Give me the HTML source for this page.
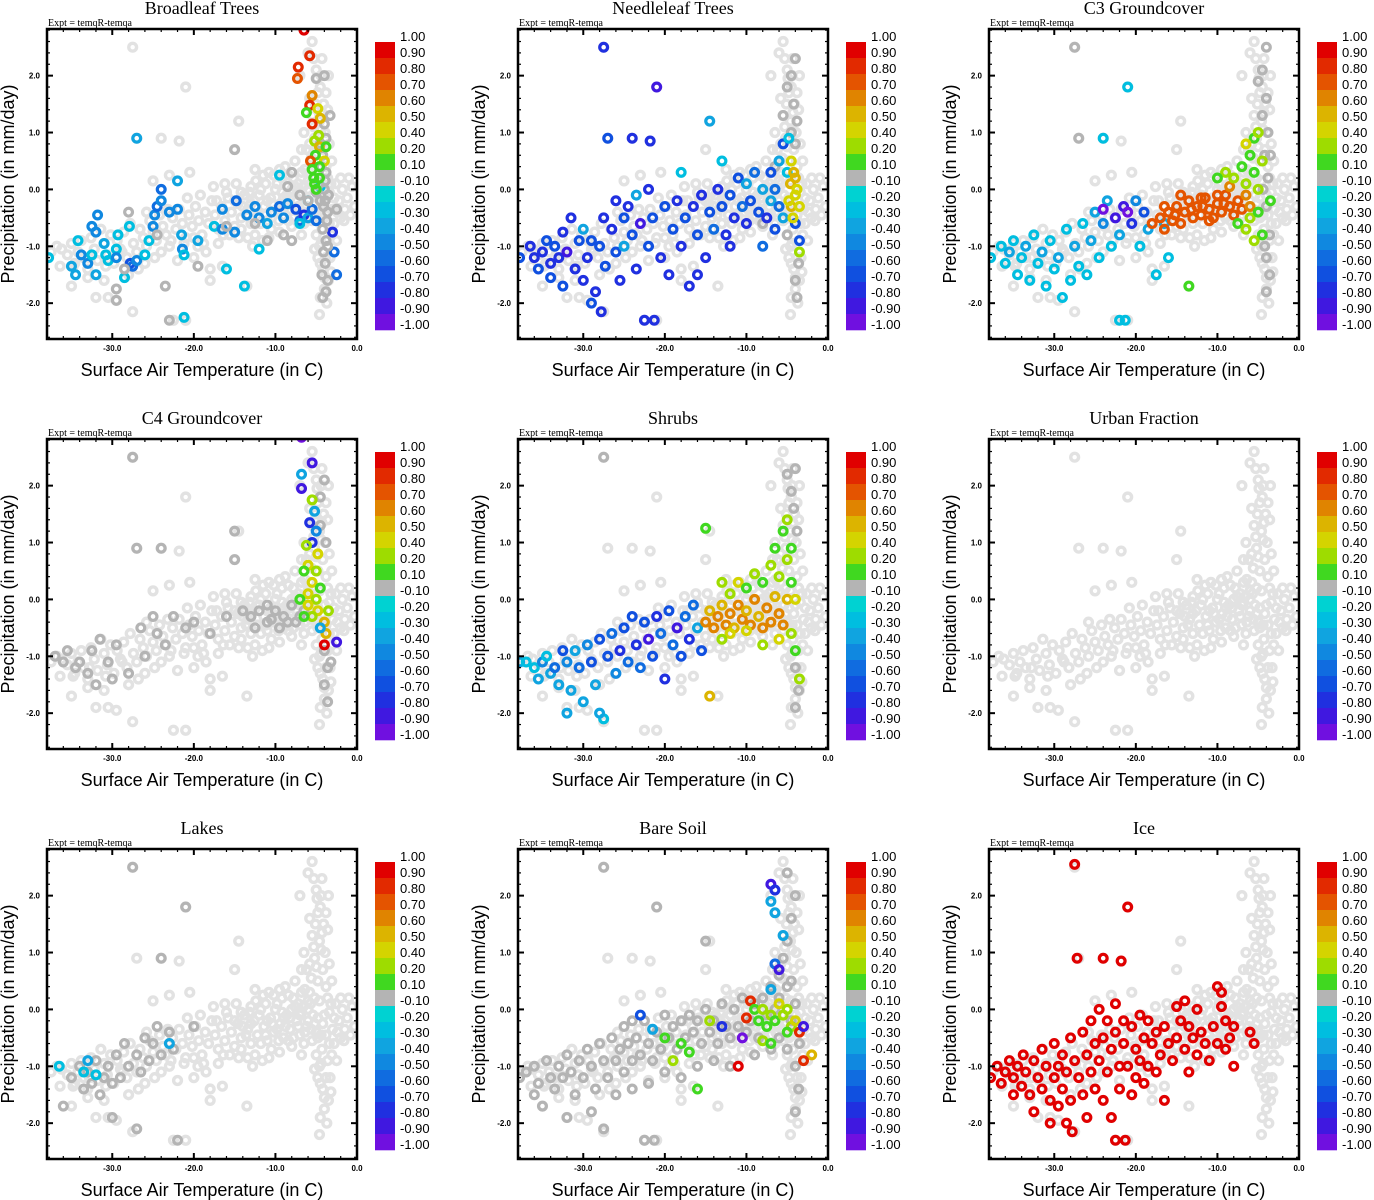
<!DOCTYPE html>
<html><head><meta charset="utf-8">
<style>
html,body{margin:0;padding:0;background:#fff;}
svg{display:block;}
.ttl{font-family:"Liberation Serif",serif;font-size:18px;}
.expt{font-family:"Liberation Serif",serif;font-size:10px;}
.axl{font-family:"Liberation Sans",sans-serif;font-size:18px;}
.tk{font-family:"Liberation Sans",sans-serif;font-size:8px;font-weight:bold;}
.cb{font-family:"Liberation Sans",sans-serif;font-size:13px;}
</style></head>
<body>
<svg id="fig" width="1374" height="1200" viewBox="0 0 1374 1200" xmlns="http://www.w3.org/2000/svg"></svg>
<script>
// ---- chart data ----
const panelTitles = ["Broadleaf Trees","Needleleaf Trees","C3 Groundcover","C4 Groundcover","Shrubs","Urban Fraction","Lakes","Bare Soil","Ice"];
const xTicks = [-30,-20,-10,0];
const xTickLabels = ["-30.0","-20.0","-10.0","0.0"];
const yTicks = [2,1,0,-1,-2];
const yTickLabels = ["2.0","1.0","0.0","-1.0","-2.0"];
const cbEdges = [1,0.9,0.8,0.7,0.6,0.5,0.4,0.2,0.1,-0.1,-0.2,-0.3,-0.4,-0.5,-0.6,-0.7,-0.8,-0.9,-1];
const cbLabels = ["1.00","0.90","0.80","0.70","0.60","0.50","0.40","0.20","0.10","-0.10","-0.20","-0.30","-0.40","-0.50","-0.60","-0.70","-0.80","-0.90","-1.00"];
const cbColors = ['#e00000','#e22a00','#e45400','#e08400','#dcb400','#d4d400','#9edc00','#40d820','#b4b4b4','#00d2d2','#00bee0','#10a4e0','#1088e0','#106ce0','#1050e0','#2030e0','#4018e0','#7010e0'];
// background cloud [temperature, precipitation]
const basePoints = [[-37.5,-1.1],[-36.8,-1.0],[-36.2,-1.05],[-35.5,-1.15],[-35.0,-0.95],[-34.6,-1.3],[-34.2,-1.1],[-33.8,-0.9],[-33.5,-1.2],[-33.0,-1.4],[-32.6,-0.85],[-32.2,-1.05],[-31.8,-1.25],[-31.4,-0.7],[-31.0,-0.95],[-30.6,-1.15],[-30.2,-0.8],[-29.8,-1.3],[-29.4,-0.9],[-29.0,-1.05],[-28.6,-0.75],[-28.2,-1.2],[-27.8,-0.6],[-27.4,-0.95],[-27.0,-1.1],[-26.6,-0.7],[-26.2,-0.85],[-25.8,-1.0],[-25.4,-0.55],[-25.0,-0.75],[-24.6,-0.9],[-24.2,-0.45],[-23.8,-0.65],[-23.4,-0.8],[-23.0,-1.0],[-22.6,-0.5],[-22.2,-0.7],[-21.8,-0.35],[-21.4,-0.6],[-21.0,-0.85],[-20.6,-0.45],[-20.2,-0.65],[-19.8,-0.3],[-19.4,-0.55],[-19.0,-0.8],[-18.6,-0.4],[-18.2,-0.6],[-17.8,-0.2],[-17.4,-0.45],[-17.0,-0.7],[-16.6,-0.3],[-16.2,-0.55],[-15.8,-0.15],[-15.4,-0.4],[-15.0,-0.65],[-14.6,-0.25],[-14.2,-0.5],[-13.8,-0.1],[-13.4,-0.35],[-13.0,-0.6],[-12.6,-0.2],[-12.2,-0.45],[-11.8,0.0],[-11.4,-0.3],[-11.0,-0.55],[-10.6,-0.15],[-10.2,-0.4],[-9.8,0.1],[-9.4,-0.25],[-9.0,-0.5],[-8.6,-0.1],[-8.2,-0.35],[-7.8,0.2],[-7.4,-0.2],[-7.0,-0.45],[-6.6,0.05],[-6.2,-0.3],[-5.8,0.3],[-5.4,-0.1],[-5.0,-0.4],[-4.6,0.15],[-4.2,-0.25],[-3.8,0.4],[-3.4,-0.05],[-3.0,-0.35],[-2.6,0.1],[-2.2,-0.2],[-1.8,0.0],[-1.2,-0.15],[-0.6,0.05],[-0.3,-0.3],
[-16,-0.05],[-15,-0.2],[-14,-0.3],[-13,0.05],[-12,-0.1],[-11,-0.2],[-10,0.0],[-9,-0.15],[-8,0.0],[-7,-0.1],[-6,-0.2],[-10.5,-0.7],[-12.5,-0.8],[-9.5,-0.75],[-8,-0.65],[-6.5,-0.6],[-14.5,-0.85],[-17,-0.95],[-18.5,-1.1],[-19.5,-1.0],[-16.5,-1.35],[-18,-1.4],[-20,-1.2],[-22,-1.25],[-24,-1.1],[-26,-1.3],[-28,-1.5],[-31,-1.6],[-33,-1.55],[-35,-1.7],[-27.5,-2.15],[-29.5,-1.95],[-30.5,-1.9],[-32,-1.9],[-22.5,-2.3],[-21,-2.3],[-13.5,-1.7],[-18,-1.6],
[-4.5,-1.9],[-4,-1.75],[-3.5,-1.6],[-4.2,-1.4],[-3.8,-1.2],[-4.6,-1.0],[-3.6,-0.9],[-5,-0.8],[-4.3,-0.7],[-3.4,-0.6],[-5.5,-0.55],[-4.8,0.5],[-4.2,0.7],[-5.2,0.9],[-3.9,1.0],[-4.6,1.2],[-5.5,1.3],[-4.1,1.5],[-4.8,1.7],[-3.6,1.4],[-5.8,1.6],[-4.4,2.0],[-5.0,2.1],[-6.0,2.4],[-7,2.0],[-6.5,1.0],[-6.2,0.7],[-5.7,0.1],[-3.1,0.5],[-2.8,-0.6],[-2.5,-0.9],[-3.2,-1.45],[-4.9,1.95],[-5.5,2.6],
[-27.5,2.5],[-21,1.8],[-27,0.9],[-24,0.9],[-21.8,0.85],[-14.5,1.2],[-15,0.7],[-25,0.15],[-23,0.25],[-20.5,0.3],[-12.5,0.35],[-11.5,0.25],[-9.5,0.35],
[-8.8,0.4],[-7.6,0.5],[-6.8,0.3],[-9.2,-0.05],[-7.2,0.1],[-6,0.0],[-5.2,-0.25],[-4.8,-0.15],[-3.8,-0.45],[-2,-0.5],[-1.5,-0.35],[-13.2,-0.05],[-11.2,0.1],[-10.2,0.25],[-8.4,-0.55],[-6.8,-0.8],[-4.5,-1.3],
[-14.8,0.1],[-14.2,-0.05],[-13.6,-0.45],[-13,-0.25],[-12.4,0.15],[-11.8,-0.6],[-11.2,-0.45],[-10.8,0.3],[-10.4,-0.25],[-9.8,-0.35],[-9.6,-0.55],[-9.2,0.2],[-8.8,-0.3],[-8.4,0.25],[-8.2,-0.15],[-7.8,-0.5],[-7.6,0.05],[-7.2,-0.3],[-6.8,-0.05],[-6.4,0.35],[-6.4,-0.4],[-6,0.15],[-5.6,-0.35],[-5.6,0.55],[-5.2,0.2],[-4.8,-0.5],[-4.4,-0.45],[-4,-0.1],[-3.6,0.2],[-3.2,0.1],[-2.8,-0.15],[-2.4,-0.4],[-2,0.2],[-1.6,-0.55],[-1,0.2],[-0.8,-0.45],[-5.8,0.8],[-6.8,0.7],[-5,0.75],[-4.4,1.05],[-3.4,0.8],[-5.3,1.1],[-4.3,1.35],[-5.1,1.5],[-4.5,1.8],[-3.8,1.7],[-5.3,2.3],[-4.3,2.3],[-3.5,2.0],[-4,-1.55],[-4.8,-1.2],[-3.3,-1.2],[-4.4,-0.95],[-5.2,-1.05],[-3.1,-0.8],[-4.6,-2.2],[-3.7,-2.0],
[-20,-0.85],[-18.8,-0.95],[-17.2,-0.2],[-16.4,-0.8],[-15.6,-0.8],[-14.2,-0.7],[-13.4,-0.85],[-12.8,-1.0],[-11.6,-0.9],[-10.8,-0.85],[-22.8,-0.9],[-21.2,-0.95],[-24.8,-1.2],[-26.8,-1.4],[-28.8,-1.1],[-30.8,-1.35],[-32.8,-1.2],[-34.8,-1.35],[-36.4,-1.35],[-25.8,-0.4],[-23.2,-0.35],[-20.8,-0.15],[-19.2,-0.1],[-17.6,0.05],[-16.2,0.1]];
// highlighted points per panel [temperature, precipitation, correlation]
const p1Points = [[-37.8,-1.2,-0.25],[-35,-1.35,-0.35],[-34.5,-1.5,-0.35],[-34.2,-0.9,-0.25],[-33.8,-1.15,-0.45],[-33,-1.3,-0.45],[-32.5,-0.65,-0.45],[-32,-0.75,-0.45],[-31.8,-0.45,-0.45],[-32.5,-1.15,-0.25],[-32,-1.5,-0.35],[-31,-0.95,-0.35],[-30.5,-1.25,-0.25],[-30.8,-1.15,-0.25],[-29.5,-1.05,-0.25],[-29.5,-1.2,-0.45],[-29.3,-0.8,-0.25],[-28.5,-1.55,-0.25],[-27.8,-1.3,-0.6],[-27.5,-1.35,-0.5],[-27,-1.25,-0.45],[-27,0.9,-0.3],[-27.9,-0.65,-0.25],[-26,-1.15,-0.25],[-25.5,-0.9,-0.25],[-25,-0.65,-0.4],[-24.8,-0.45,-0.45],[-24.5,-0.3,-0.5],[-24,-0.2,-0.45],[-24,0.0,-0.5],[-23,-0.4,-0.45],[-22,-0.35,-0.45],[-22,0.15,-0.3],[-21.5,-0.8,-0.3],[-21.4,-1.05,-0.4],[-21.2,-1.15,-0.25],[-21.2,-2.25,-0.25],[-19.5,-0.9,-0.3],[-17.5,-0.65,-0.25],[-16.5,-0.35,-0.45],[-16.5,-0.7,-0.4],[-15,-0.75,-0.45],[-14.8,-0.2,-0.5],[-13.8,-1.7,-0.25],[-13.5,-0.45,-0.4],[-12.5,-0.3,-0.4],[-12,-0.5,-0.4],[-11,-0.6,-0.3],[-10.5,-0.4,-0.45],[-9.5,-0.3,-0.5],[-9,-0.5,-0.45],[-8.5,-0.25,-0.4],[-7.5,-0.35,-0.6],[-7,-0.55,-0.5],[-6.5,-0.45,-0.7],[-6,-0.5,-0.3],[-5.5,-0.35,-0.5],[-5,-0.55,-0.5],[-7,-0.6,-0.2],[-6,-0.2,-0.2],[-4.5,0.05,-0.2],[-3,-0.75,-0.75],[-2.8,-1.1,-0.5],[-2.5,-1.5,-0.5],[-12,-1.05,-0.25],[-16,-1.4,-0.25],[-9.5,0.25,-0.2],
[-4,2.0,0],[-5,1.95,0],[-3.3,1.3,0],[-4,1.15,0],[-3.8,0.9,0],[-4.2,0.6,0],[-3.8,0.3,0],[-4,0.0,0],[-4.5,-0.2,0],[-3.6,-0.4,0],[-4.2,-0.7,0],[-3.8,-0.9,0],[-4.1,-1.1,0],[-3.9,-1.3,0],[-3.6,-1.6,0],[-4.2,-1.9,0],[-3.8,-1.8,0],[-6,-0.2,0],[-8,0.3,0],[-8.5,0.05,0],[-9,-0.8,0],[-8,-0.9,0],[-11,-0.9,0],[-12.5,-0.6,0],[-15,0.7,0],[-23.5,-1.7,0],[-23,-2.3,0],[-29.5,-1.95,0],[-29.5,-1.75,0],[-28.5,-1.4,0],[-28,-0.4,0],[-24.5,-0.8,0],[-19.5,-1.35,0],[-16,-0.65,0],[-7,-0.1,0],[-5,-0.05,0],[-3.5,-0.1,0],[-2.5,-0.35,0],[-4.5,0.8,0],[-3.9,0.15,0],[-4.1,-0.3,0],[-3.7,-0.55,0],[-4.3,-1.5,0],[-3.6,-1.0,0],[-4.4,0.4,0],[-3.9,-0.2,0],
[-6.5,2.8,0.95],[-5.8,2.35,0.9],[-7.2,2.15,0.85],[-7.3,1.95,0.75],[-5.5,1.65,0.65],[-5.8,1.48,0.85],[-4.8,1.42,0.45],[-6.2,1.35,0.15],[-4.5,1.25,0.55],[-5.5,1.15,0.85],[-4.7,0.95,0.35],[-5.2,0.85,0.35],[-4.6,0.75,0.6],[-3.8,0.75,0.2],[-5.1,0.6,0.2],[-5.7,0.5,0.8],[-4.0,0.5,0.5],[-4.6,0.4,0.2],[-5.5,0.35,0.2],[-4.6,0.2,0.15],[-5.3,0.2,0.15],[-5.2,0.1,0.15],[-5.0,0.0,0.15]];
const p2Points = [[-4,2.3,0],[-4.5,2.0,0],[-5,1.8,0],[-4.2,1.5,0],[-3.8,1.2,0],[-4.5,1.0,0],[-4,0.8,0],[-5.5,1.3,0],[-3.6,-1.3,0],[-4,-1.6,0],[-3.8,-1.9,0],[-6.5,0.4,0],[-5,-0.8,0],[-8,-0.6,0],
[-37.8,-1.2,-0.6],[-36.5,-1.0,-0.7],[-36,-1.2,-0.7],[-35.5,-1.4,-0.6],[-35,-1.1,-0.7],[-34.5,-0.9,-0.6],[-34,-1.3,-0.7],[-34,-1.55,-0.65],[-33.5,-1.0,-0.6],[-33,-1.2,-0.7],[-32.5,-0.75,-0.7],[-32.5,-1.7,-0.6],[-32,-1.1,-0.8],[-31.5,-0.5,-0.7],[-31,-1.4,-0.7],[-30.5,-0.9,-0.6],[-30,-1.6,-0.7],[-30,-0.7,-0.3],[-29.5,-1.2,-0.75],[-29,-0.9,-0.6],[-29,-2.0,-0.65],[-28.5,-1.8,-0.7],[-28,-1.0,-0.6],[-27.8,-2.15,-0.7],[-27.5,-0.5,-0.7],[-27.3,-1.35,-0.6],[-27,0.9,-0.6],[-27.5,2.5,-0.75],[-26.5,-0.7,-0.7],[-26,-1.1,-0.6],[-26,-0.2,-0.7],[-25.5,-1.6,-0.7],[-25,-0.5,-0.6],[-25,-1.0,-0.3],[-24.5,-0.3,-0.7],[-24,0.9,-0.7],[-24,-0.8,-0.6],[-23.5,-0.1,-0.3],[-23.5,-1.4,-0.7],[-23,-0.6,-0.8],[-22.5,-2.3,-0.75],[-22,-1.0,-0.6],[-22,0.0,-0.7],[-21.8,0.85,-0.7],[-21.5,-0.5,-0.6],[-21.3,-2.3,-0.7],[-21,1.8,-0.8],[-20.5,-1.2,-0.7],[-20,-0.3,-0.6],[-19.5,-1.5,-0.7],[-19,-0.7,-0.6],[-18.5,-0.2,-0.7],[-18,-1.0,-0.75],[-17.5,-0.5,-0.6],[-17,-1.7,-0.7],[-16.5,-0.3,-0.7],[-16,-0.8,-0.6],[-15.5,-0.1,-0.7],[-15,-1.2,-0.7],[-14.5,1.2,-0.3],[-14.5,-0.4,-0.6],[-14,-0.7,-0.5],[-13.5,0.0,-0.7],[-13,-0.3,-0.6],[-12.5,-0.8,-0.7],[-12,-0.1,-0.6],[-11.5,-0.5,-0.7],[-11,0.2,-0.6],[-10.5,-0.3,-0.5],[-10,-0.6,-0.7],[-10,0.1,-0.3],[-9.5,-0.2,-0.6],[-9,0.3,-0.5],[-8.5,-0.4,-0.6],[-8,0.0,-0.3],[-7.5,-0.5,-0.7],[-7,0.3,-0.6],[-7,-0.2,-0.3],[-6.5,0.0,-0.5],[-6.5,-0.7,-0.6],[-6,0.5,-0.3],[-6,-0.3,-0.5],[-5.5,0.8,-0.6],[-5.5,-0.5,-0.3],[-5,0.3,-0.2],[-4.8,0.9,-0.2],[-4,-0.6,-0.6],[-3.5,-0.9,-0.6],[-12,-1.0,-0.7],[-8,-1.0,-0.5],[-16,-1.5,-0.7],[-18,0.3,-0.2],[-13,0.5,-0.2],
[-4.5,0.5,0.5],[-4.2,0.3,0.55],[-4.6,0.1,0.55],[-4.0,-0.1,0.5],[-4.5,-0.3,0.6],[-3.8,0.0,0.5],[-4.3,-0.5,0.45],[-4.0,0.2,0.6],[-3.5,-0.3,0.5],[-3.5,-1.1,0.4],[-4.8,-0.2,0.45]];
const p3Points = [[-4,2.5,0],[-4.5,2.1,0],[-5,1.9,0],[-4,1.6,0],[-4.5,1.3,0],[-3.8,1.0,0],[-4.2,0.6,0],[-3.8,0.2,0],[-4,-0.3,0],[-3.6,-0.8,0],[-4,-1.2,0],[-3.6,-1.5,0],[-4,-1.8,0],[-4.2,-1.0,0],[-4.4,0.0,0],[-3.5,0.6,0],[-27.5,2.5,0],[-27,0.9,0],
[-37.8,-1.2,-0.25],[-36.5,-1.0,-0.25],[-36,-1.3,-0.25],[-35.5,-1.1,-0.3],[-35,-0.9,-0.25],[-34.5,-1.5,-0.25],[-34,-1.2,-0.25],[-33.5,-1.0,-0.3],[-33,-1.6,-0.25],[-32.5,-0.8,-0.25],[-32,-1.3,-0.25],[-31.5,-1.1,-0.3],[-31,-1.7,-0.25],[-30.5,-0.9,-0.25],[-30,-1.4,-0.25],[-29.5,-1.2,-0.3],[-29,-1.9,-0.25],[-28.5,-0.7,-0.25],[-28,-1.6,-0.25],[-27.5,-1.0,-0.3],[-27,-1.35,-0.25],[-26.5,-0.6,-0.25],[-26,-1.5,-0.25],[-25.5,-0.9,-0.3],[-25,-0.4,-0.3],[-24.5,-1.2,-0.25],[-24,0.9,-0.25],[-24,-0.6,-0.4],[-23.5,-0.2,-0.3],[-23,-1.0,-0.25],[-22.5,-0.5,-0.8],[-22,-0.8,-0.3],[-21.5,-0.3,-0.8],[-21.3,-2.3,-0.25],[-21,1.8,-0.25],[-20.5,-0.6,-0.7],[-20,-0.2,-0.4],[-19.5,-1.0,-0.25],[-19,-0.4,-0.6],[-18.5,-0.7,-0.3],[-22,-2.3,-0.25],[-16,-1.2,-0.25],[-17.5,-1.5,-0.25],[-24,-0.35,-0.9],[-21,-0.4,-0.9],[-16.5,-0.6,-0.3],
[-18,-0.6,0.75],[-17,-0.5,0.75],[-16.5,-0.7,0.8],[-16,-0.4,0.75],[-15.5,-0.55,0.75],[-15,-0.3,0.8],[-14.5,-0.6,0.75],[-14,-0.4,0.75],[-13.5,-0.2,0.75],[-13,-0.5,0.75],[-12.5,-0.3,0.8],[-12,-0.45,0.75],[-11.5,-0.15,0.75],[-11,-0.35,0.75],[-10.5,-0.5,0.75],[-10,-0.25,0.8],[-9.5,-0.4,0.75],[-9,-0.1,0.75],[-8.5,-0.3,0.75],[-8,-0.45,0.75],[-7.5,-0.2,0.75],[-7,-0.35,0.75],[-6.5,-0.1,0.7],[-6,-0.3,0.7],[-14.5,-0.1,0.75],[-12,-0.15,0.8],[-10,-0.1,0.75],[-8.5,0.05,0.7],[-16.5,-0.3,0.8],[-11,-0.55,0.75],[-15.2,-0.45,0.75],[-13.2,-0.35,0.8],[-11.8,-0.3,0.75],[-9.2,-0.25,0.75],
[-8,0.2,0.3],[-7.5,-0.6,0.2],[-7,0.4,0.15],[-6.5,0.1,0.35],[-6.5,-0.7,0.25],[-6,0.6,0.2],[-6,-0.5,0.4],[-5.5,0.3,0.15],[-5.5,0.9,0.2],[-5,1.0,0.25],[-5,0.0,0.35],[-5,-0.4,0.2],[-4.5,0.5,0.4],[-4.5,-0.8,0.15],[-6.5,0.8,0.45],[-13.5,-1.7,0.15],[-9,0.3,0.4],[-10,0.2,0.2],[-5.5,-0.9,0.3],[-3.5,-0.2,0.15]];
const p4Points = [[-37,-1.0,0],[-36,-1.1,0],[-35.5,-0.9,0],[-34.5,-1.2,0],[-34,-1.1,0],[-33,-1.3,0],[-32.5,-0.9,0],[-32,-1.5,0],[-31.5,-0.7,0],[-30.5,-1.1,0],[-30,-1.4,0],[-29.5,-0.8,0],[-28,-1.3,0],[-27.5,2.5,0],[-27,0.9,0],[-26.5,-0.5,0],[-26,-1.0,0],[-25,-0.3,0],[-24.5,-0.6,0],[-24,0.9,0],[-23.5,-0.8,0],[-22.5,-0.3,0],[-21,-0.5,0],[-20,-0.4,0],[-18,-0.6,0],[-16,-0.3,0],[-15,1.2,0],[-15,0.7,0],[-14,-0.2,0],[-13,-0.3,0],[-12,-0.2,0],[-11,-0.4,0],[-10,-0.2,0],[-9,-0.3,0],[-8,-0.1,0],[-7.5,-0.4,0],[-6.5,-0.2,0],[-9.5,-0.5,0],[-12.5,-0.5,0],[-4,2.1,0],[-4.5,1.8,0],[-3.8,1.0,0],[-4,-0.9,0],[-3.6,-1.2,0],[-4,-1.5,0],[-3.6,-1.8,0],[-3.2,-1.1,0],[-4.5,1.3,0],[-11,-0.1,0],[-8.5,-0.4,0],[-7,-0.3,0],[-10.5,-0.35,0],
[-6.8,2.85,-0.9],[-5.5,2.4,-0.8],[-6.8,2.2,-0.3],[-6.8,1.95,-0.8],[-5.5,1.75,0.4],[-5.2,1.55,-0.3],[-5.8,1.35,-0.75],[-5,1.2,-0.4],[-5.5,1.0,-0.7],[-6.2,0.95,0.35],[-4.8,0.8,0.5],[-6,0.6,0.5],[-5,0.5,0.3],[-6.5,0.5,0.15],[-5.5,0.3,0.45],[-4.5,0.2,0.2],[-6,0.1,0.45],[-7,0.0,0.15],[-5,0.0,0.4],[-6,-0.1,0.5],[-4.8,-0.2,0.45],[-5.5,-0.3,0.3],[-4,-0.4,0.55],[-3.8,-0.6,0.6],[-4,-0.8,0.95],[-2.5,-0.75,-0.8],[-4.5,-0.5,-0.3],[-3.5,-0.2,0.4],[-6.5,-0.3,0.2]];
const p5Points = [[-4,2.3,0],[-5,2.2,0],[-4.5,1.9,0],[-4.2,1.6,0],[-3.8,1.2,0],[-4,-1.2,0],[-3.6,-1.6,0],[-4,-1.9,0],[-27.5,2.5,0],
[-37.8,-1.1,-0.3],[-37,-1.1,-0.25],[-36,-1.2,-0.25],[-35.5,-1.4,-0.3],[-35,-1.1,-0.45],[-34.5,-1.0,-0.25],[-34,-1.3,-0.3],[-33.5,-1.2,-0.5],[-33,-1.5,-0.3],[-32.5,-0.9,-0.6],[-32,-1.1,-0.4],[-31.5,-1.6,-0.3],[-31,-0.9,-0.3],[-30.5,-1.2,-0.5],[-30,-1.8,-0.3],[-29.5,-0.8,-0.4],[-29,-1.1,-0.6],[-28.5,-1.5,-0.3],[-28,-0.7,-0.6],[-27.5,-2.1,-0.25],[-27,-1.0,-0.6],[-26.5,-0.6,-0.5],[-26,-1.3,-0.4],[-25.5,-0.9,-0.7],[-25,-0.5,-0.6],[-24.5,-1.1,-0.5],[-24,-0.3,-0.6],[-23.5,-0.8,-0.7],[-23,-1.2,-0.5],[-22.5,-0.4,-0.6],[-22,-0.7,-0.8],[-21.5,-1.0,-0.6],[-21,-0.3,-0.7],[-20.5,-0.6,-0.5],[-20,-1.4,-0.7],[-19.5,-0.2,-0.6],[-19,-0.8,-0.5],[-18.5,-0.5,-0.8],[-18,-1.0,-0.6],[-17.5,-0.3,-0.5],[-17,-0.7,-0.7],[-16.5,-0.1,-0.5],[-16,-0.5,-0.3],[-15.5,-0.9,-0.6],[-32,-2.0,-0.3],[-28,-2.0,-0.35],
[-15,-0.4,0.65],[-14.5,-0.2,0.6],[-14,-0.5,0.7],[-13.5,-0.3,0.65],[-13,-0.1,0.6],[-12.5,-0.45,0.7],[-12,-0.25,0.65],[-11.5,-0.5,0.6],[-11,-0.1,0.7],[-10.5,-0.35,0.65],[-10,-0.2,0.6],[-9.5,-0.45,0.7],[-9,0.0,0.65],[-8.5,-0.3,0.6],[-8,-0.5,0.65],[-7.5,-0.15,0.7],[-7,-0.4,0.65],[-6.5,0.05,0.6],[-6,-0.25,0.65],[-5.5,-0.45,0.7],[-5,0.0,0.6],[-14.5,-1.7,0.6],[-12,-0.6,0.5],[-10,-0.55,0.45],
[-15,1.25,0.2],[-13,0.3,0.4],[-12,0.1,0.3],[-11,0.3,0.45],[-10,0.2,0.2],[-9,0.45,0.35],[-8,0.3,0.15],[-7,0.6,0.4],[-6.5,0.9,0.2],[-6,0.4,0.3],[-5.5,1.2,0.15],[-5,0.7,0.4],[-4.5,0.3,0.2],[-4.5,-0.6,0.3],[-4,0.0,0.45],[-3.5,-1.4,0.3],[-4,-0.9,0.2],[-8,-0.8,0.3],[-6,-0.7,0.45],[-5,1.4,0.35],[-4.5,0.9,0.15],[-13,-0.7,0.35]];
const p6Points = [];
const p7Points = [[-35,-1.2,0],[-34,-1.0,0],[-33.5,-1.4,0],[-33,-1.1,0],[-32.5,-1.3,0],[-32,-0.9,0],[-31.5,-1.5,0],[-31,-1.2,0],[-30.5,-1.0,0],[-30,-1.3,0],[-29.5,-0.8,0],[-29,-1.2,0],[-28.5,-0.6,0],[-28,-1.0,0],[-27.5,2.5,0],[-27,-0.8,0],[-26.5,-1.1,0],[-26,-0.5,0],[-25.5,-0.9,0],[-25,-0.6,0],[-24.5,-0.3,0],[-24,0.9,0],[-24,-0.8,0],[-23,-0.4,0],[-22.5,-0.7,0],[-21,1.8,0],[-22,-2.3,0],[-30,-1.9,0],[-36,-1.7,0],[-27,-2.1,0],[-20,-0.3,0],
[-36.5,-1.0,-0.25],[-33,-0.9,-0.3],[-33.5,-1.1,-0.2],[-32,-1.15,-0.25],[-23,-0.6,-0.3]];
const p8Points = [[-37,-1.1,0],[-36,-1.0,0],[-35.5,-1.3,0],[-35,-1.7,0],[-34.5,-0.9,0],[-34,-1.2,0],[-33.5,-1.4,0],[-33,-1.0,0],[-32.5,-1.2,0],[-32,-0.8,0],[-31.5,-1.1,0],[-31,-1.5,0],[-30.5,-0.9,0],[-30,-1.2,0],[-29.5,-0.7,0],[-29,-1.0,0],[-28.5,-1.4,0],[-28,-0.6,0],[-27.5,2.5,0],[-27.5,-0.9,0],[-27,-1.2,0],[-26.5,-0.5,0],[-26,-0.9,0],[-25.5,-0.7,0],[-25,-0.3,0],[-25,-1.1,0],[-24.5,-0.6,0],[-24,-0.2,0],[-24,-0.9,0],[-23.5,-0.5,0],[-23,-0.8,0],[-22.5,-0.2,0],[-22,-0.6,0],[-21.5,-0.9,0],[-21,1.8,0],[-21,-0.4,0],[-20.5,-0.7,0],[-20,-0.1,0],[-19.5,-0.5,0],[-19,-0.3,0],[-18.5,-0.7,0],[-18,-0.2,0],[-17.5,-0.5,0],[-17,-0.1,0],[-16.5,-0.4,0],[-16,-0.2,0],[-15.5,-0.6,0],[-15,0.0,0],[-15,1.2,0],[-14.5,-0.4,0],[-14,-0.2,0],[-13.5,-0.6,0],[-13,0.1,0],[-12.5,-0.3,0],[-12,-0.5,0],[-11.5,0.0,0],[-11,-0.3,0],[-10.5,0.2,0],[-10,-0.4,0],[-9.5,-0.2,0],[-9,0.1,0],[-8.5,-0.5,0],[-8,0.2,0],[-7.5,-0.1,0],[-7,0.4,0],[-6.5,0.0,0],[-6,0.6,0],[-5.5,0.9,0],[-5,1.2,0],[-4.5,1.6,0],[-4,2.0,0],[-5,2.4,0],[-4.5,0.5,0],[-4,0.1,0],[-3.5,-0.6,0],[-4,-1.0,0],[-3.6,-1.4,0],[-4,-1.8,0],[-5,-0.7,0],[-6,-0.5,0],[-7,-0.7,0],[-9,-0.8,0],[-12,-1.0,0],[-14,-0.9,0],[-16,-1.0,0],[-18,-1.2,0],[-20,-1.1,0],[-22,-1.3,0],[-24,-1.4,0],[-26,-1.5,0],[-29,-1.8,0],[-32,-1.9,0],[-22.5,-2.3,0],[-21.3,-2.3,0],[-27.5,-2.1,0],[-36,-1.5,0],[-37.8,-1.2,0],[-6,0.2,0],[-5,0.4,0],[-4.5,-0.2,0],
[-7,2.2,-0.8],[-6.5,2.1,-0.75],[-7,1.9,-0.3],[-6.5,1.7,-0.3],[-5.5,1.3,-0.3],[-6.5,0.8,-0.5],[-6,0.7,-0.8],[-7,0.35,-0.3],[-9.5,0.15,0.85],[-9,0.0,0.15],[-8.5,-0.2,0.2],[-8,0.0,0.3],[-7.5,-0.3,0.15],[-7,-0.1,0.4],[-6.5,-0.2,0.2],[-6,0.1,0.45],[-5.5,-0.1,0.3],[-5,0.0,0.35],[-4.5,-0.3,0.3],[-5,-0.4,0.2],[-4,-0.2,0.45],[-3.5,-0.4,0.9],[-3,-0.3,-0.85],[-2,-0.8,0.6],[-10,-0.15,0.9],[-11,-1.0,0.95],[-3,-0.9,0.9],[-10.5,-0.5,-0.9],[-20,-0.5,0.2],[-18,-0.6,0.2],[-17,-0.75,0.2],[-19,-0.9,0.3],[-16,-1.4,0.2],[-23,-0.1,-0.6],[-21.5,-0.35,-0.3],[-13,-0.3,-0.75],[-14.5,-0.2,0.3],[-8,-0.55,0.25],[-7,-0.6,0.2]];
const p9Points = [[-37.8,-1.2,0.95],[-37,-1.0,0.95],[-36.5,-1.3,0.95],[-36,-1.1,0.95],[-35.5,-0.9,0.95],[-35,-1.5,0.95],[-35,-1.2,0.95],[-34.5,-1.0,0.95],[-34,-1.35,0.95],[-33.8,-0.8,0.95],[-33.5,-1.1,0.95],[-33,-1.5,0.95],[-32.5,-0.9,0.95],[-32.5,-1.8,0.95],[-32,-1.2,0.95],[-31.5,-0.7,0.95],[-31.5,-1.4,0.95],[-31,-1.0,0.95],[-30.5,-1.6,0.95],[-30.5,-2.0,0.95],[-30,-0.6,0.95],[-30,-1.2,0.95],[-29.5,-1.0,0.95],[-29.5,-1.7,0.95],[-29,-0.8,0.95],[-29,-1.4,0.95],[-28.5,-1.1,0.95],[-28.5,-2.0,0.95],[-28,-0.5,0.95],[-28,-1.6,0.95],[-27.8,-2.15,0.95],[-27.5,-0.9,0.95],[-27.5,2.55,0.95],[-27.2,0.9,0.95],[-27,-1.2,0.95],[-26.5,-0.4,0.95],[-26.5,-1.5,0.95],[-26,-0.8,0.95],[-26,-1.9,0.95],[-25.5,-0.2,0.95],[-25.5,-1.1,0.95],[-25,-0.6,0.95],[-25,-1.4,0.95],[-24.5,0.0,0.95],[-24.5,-0.9,0.95],[-24,0.9,0.95],[-24,-0.5,0.95],[-24,-1.6,0.95],[-23.5,-0.2,0.95],[-23.5,-1.1,0.95],[-23,-0.7,0.95],[-23,-1.9,0.95],[-22.5,-2.3,0.95],[-22.5,0.1,0.95],[-22.5,-0.4,0.95],[-22,-1.0,0.95],[-22,-1.4,0.95],[-21.8,0.85,0.95],[-21.5,-0.2,0.95],[-21.5,-0.6,0.95],[-21.3,-2.3,0.95],[-21,1.8,0.95],[-21,-1.0,0.95],[-20.5,-0.3,0.95],[-20.5,-1.5,0.95],[-20,-0.7,0.95],[-20,-1.2,0.95],[-19.5,-0.1,0.95],[-19.5,-0.9,0.95],[-19,-0.5,0.95],[-19,-1.3,0.95],[-18.5,-0.2,0.95],[-18.5,-1.0,0.95],[-18,-0.6,0.95],[-17.5,-0.4,0.95],[-17.5,-1.1,0.95],[-17,-0.8,0.95],[-16.5,-0.3,0.95],[-16.5,-1.6,0.95],[-16,-0.6,0.95],[-15.5,-0.9,0.95],[-15,0.05,0.95],[-15,-0.5,0.95],[-14.5,-0.2,0.95],[-14,-0.7,0.95],[-14,0.15,0.95],[-13.5,-0.3,0.95],[-13.5,-1.1,0.95],[-13,-0.5,0.95],[-12.5,0.0,0.95],[-12.5,-0.8,0.95],[-12,-0.4,0.95],[-11.5,-0.6,0.95],[-11,-0.9,0.95],[-10.5,-0.3,0.95],[-10,0.4,0.95],[-10,-0.6,0.95],[-9.5,0.3,0.95],[-9.5,0.05,0.95],[-9,-0.2,0.95],[-9,-0.7,0.95],[-8.5,-0.5,0.95],[-6,-0.4,0.95],[-5.5,-0.6,0.95],[-8,-1.0,0.95],[-8,-0.3,0.95]];
const panelPoints = [p1Points,p2Points,p3Points,p4Points,p5Points,p6Points,p7Points,p8Points,p9Points];

// ---- rendering ----
const NS = "http://www.w3.org/2000/svg";
const svg = document.getElementById('fig');
const X0=-38, X1=0, Y0=-2.63, Y1=2.82, PW=310, PH=310;
function mk(tag, attrs, parent){ const e=document.createElementNS(NS,tag); for(const k in attrs) e.setAttribute(k,attrs[k]); parent.appendChild(e); return e; }
function colorFor(v){ for(let i=0;i<cbColors.length;i++){ if(v<=cbEdges[i] && v>cbEdges[i+1]) return cbColors[i]; } return cbColors[cbColors.length-1]; }

panelTitles.forEach((title, p) => {
  const c=p%3, r=Math.floor(p/3);
  const L=47+c*471, T=29+r*410;
  const sx = x => L + (x-X0)/(X1-X0)*PW;
  const sy = y => T + (Y1-y)/(Y1-Y0)*PH;
  const g = mk('g',{},svg);
  
  
  const t = mk('text',{x:L+155,y:T-15,'text-anchor':'middle',class:'ttl'},g); t.textContent=title;
  
  
  const ex = mk('text',{x:L+1,y:T-3,class:'expt'},g); ex.textContent='Expt = temqR-temqa';
  
  
  const yl = mk('text',{x:0,y:0,'text-anchor':'middle',class:'axl',transform:`translate(${L-33},${T+155}) rotate(-90)`},g); yl.textContent='Precipitation (in mm/day)';
  
  
  const xl = mk('text',{x:L+155,y:T+347,'text-anchor':'middle',class:'axl'},g); xl.textContent='Surface Air Temperature (in C)';
  
  
  const cp = mk('clipPath',{id:'clip'+p},g); mk('rect',{x:L,y:T,width:PW,height:PH},cp);
  const pg = mk('g',{'clip-path':`url(#clip${p})`},g);
  
  
  basePoints.forEach(d=>{
    const m = mk('circle',{cx:sx(d[0]),cy:sy(d[1]),r:3.9,fill:'none',stroke:'#e2e2e2','stroke-width':3.4},pg);
    
    
  });
  panelPoints[p].forEach(d=>{
    const m = mk('circle',{cx:sx(d[0]),cy:sy(d[1]),r:3.9,fill:'none',stroke:colorFor(d[2]),'stroke-width':3.2},pg);
    
    
  });
  const fr = mk('rect',{x:L,y:T,width:PW,height:PH,fill:'none',stroke:'#000','stroke-width':2.5},g);
  
  
  for(let v=-38; v<=0; v+=2){
    const major = v%10===0; const len = major?6:3; const x=sx(v);
    mk('line',{x1:x,y1:T+PH,x2:x,y2:T+PH-len,stroke:'#000','stroke-width':major?2:1.2},g);
    mk('line',{x1:x,y1:T,x2:x,y2:T+len,stroke:'#000','stroke-width':major?2:1.2},g);
  }
  for(let k=-13; k<=14; k++){
    const v=k*0.2; const major = k%5===0; const len=major?6:3; const y=sy(v);
    if(y<T||y>T+PH) continue;
    mk('line',{x1:L,y1:y,x2:L+len,y2:y,stroke:'#000','stroke-width':major?2:1.2},g);
    mk('line',{x1:L+PW,y1:y,x2:L+PW-len,y2:y,stroke:'#000','stroke-width':major?2:1.2},g);
  }
  xTicks.forEach((v,i)=>{
    const tl = mk('text',{x:sx(v),y:T+PH+12,'text-anchor':'middle',class:'tk'},g); tl.textContent=xTickLabels[i];
    
    
  });
  yTicks.forEach((v,i)=>{
    const tl = mk('text',{x:L-7,y:sy(v)+3,'text-anchor':'end',class:'tk'},g); tl.textContent=yTickLabels[i];
    
    
  });
  const cb = mk('g',{},g);
  
  
  cbColors.forEach((col,i)=>{
    const b = mk('rect',{x:L+328,y:T+13+i*16,width:20,height:16.3,fill:col},cb);
    
    
  });
  cbLabels.forEach((s,i)=>{
    const tl = mk('text',{x:L+353,y:T+13+i*16-1,class:'cb'},cb); tl.textContent=s;
    
    
  });
});
</script>
</body></html>
